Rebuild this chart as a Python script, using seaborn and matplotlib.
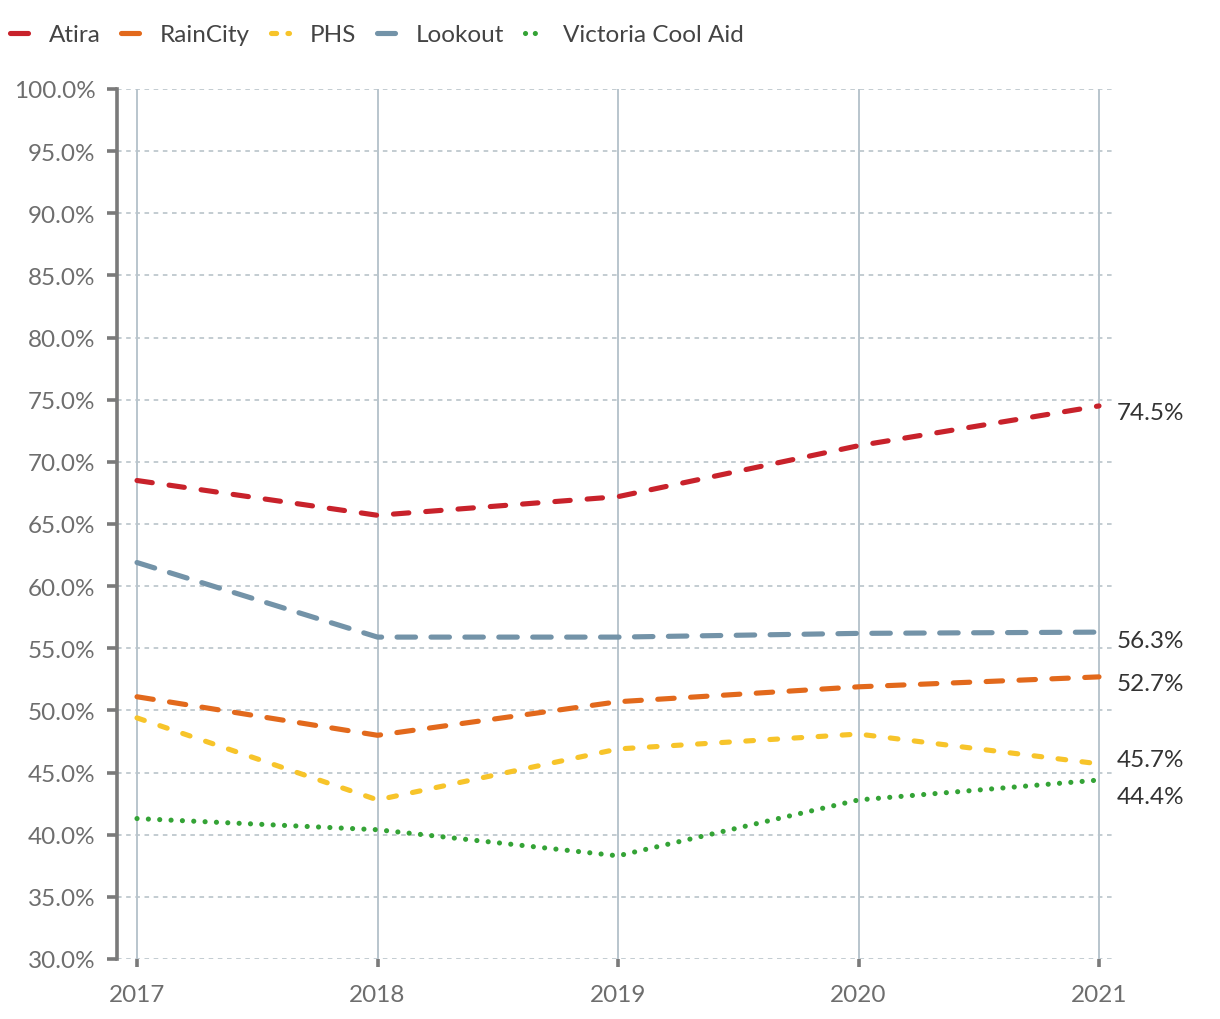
import matplotlib
matplotlib.use("Agg")
import matplotlib.pyplot as plt
from matplotlib.lines import Line2D
import seaborn as sns
import pandas as pd

years = [2017, 2018, 2019, 2020, 2021]
providers = ["Atira", "RainCity", "PHS", "Lookout", "Victoria Cool Aid"]
atira = [68.5, 65.7, 67.2, 71.3, 74.5]
raincity = [51.1, 48.0, 50.7, 51.9, 52.7]
phs = [49.4, 42.8, 46.9, 48.1, 45.7]
lookout = [61.9, 55.9, 55.9, 56.2, 56.3]
cool_aid = [41.3, 40.4, 38.3, 42.8, 44.4]

colors = {"Atira": "#c8222b", "RainCity": "#e2691c", "PHS": "#f7c42a",
          "Lookout": "#7393a8", "Victoria Cool Aid": "#34a336"}
# dash patterns (on, off) in units of line width, round caps
dashes = {"Atira": (3.0, 3.3), "RainCity": (3.2, 3.2), "PHS": (1.5, 3.2),
          "Lookout": (3.6, 3.0), "Victoria Cool Aid": (0.01, 2.2)}
# legend handles are short, so they get their own patterns
legend_dashes = {"Atira": None, "RainCity": None, "PHS": (1.0, 2.2),
                 "Lookout": None, "Victoria Cool Aid": (0.01, 1.9)}
# vertical nudge (points) for end labels so they don't collide
label_nudge = {"Atira": -5, "RainCity": -5, "PHS": 3, "Lookout": -6, "Victoria Cool Aid": -12}

series = {"Atira": atira, "RainCity": raincity, "PHS": phs,
          "Lookout": lookout, "Victoria Cool Aid": cool_aid}
df = pd.concat([pd.DataFrame({"year": years, "value": v, "provider": k})
                for k, v in series.items()], ignore_index=True)

sns.set_theme(style="white")
plt.rcParams["font.family"] = ["Lato", "DejaVu Sans"]
FS = 17.5
LW = 3.7

fig = plt.figure(figsize=(12.2, 10.2), dpi=100)
ax = fig.add_axes([117 / 1220, 60 / 1020, (1113 - 117) / 1220, 870 / 1020])

sns.lineplot(data=df, x="year", y="value", hue="provider", style="provider",
             palette=colors, dashes=dashes, hue_order=providers, style_order=providers,
             linewidth=LW, legend=False, ax=ax, dash_capstyle="round")

ax.set_xlim(2017 - 20 / 240.5, 2021 + 14 / 240.5)
ax.set_ylim(30, 100)
ax.set_yticks(range(30, 101, 5))
ax.set_yticklabels([f"{v:.1f}%" for v in range(30, 101, 5)])
ax.set_xticks(years)
ax.set_xticklabels([str(y) for y in years])
ax.set_xlabel("")
ax.set_ylabel("")

for s in ["top", "right", "bottom"]:
    ax.spines[s].set_visible(False)
ax.spines["left"].set_color("#7a7a7a")
ax.spines["left"].set_linewidth(2.6)

ax.grid(False)
for y in range(30, 101, 5):
    ax.axhline(y, color="#b3bec5", lw=1.1, ls=(0, (3, 3)), zorder=0)
for x in years:
    ax.axvline(x, color="#b9c5cd", lw=1.4, zorder=0)

ax.tick_params(axis="y", left=True, length=7, width=2.6, color="#7a7a7a",
               labelsize=FS, labelcolor="#6e6e6e", pad=8.5)
ax.tick_params(axis="x", bottom=True, length=6, width=2.6, color="#7a7a7a",
               labelsize=FS, labelcolor="#6e6e6e", pad=12)

for name in providers:
    v = series[name][-1]
    ax.annotate(f"{v:.1f}%", xy=(years[-1], v), xytext=(13, label_nudge[name]),
                textcoords="offset points", ha="left", va="center",
                fontsize=FS, color="#333333", annotation_clip=False)

handles = []
for name in providers:
    ls = "-" if legend_dashes[name] is None else (0, legend_dashes[name])
    handles.append(Line2D([], [], color=colors[name], lw=LW, ls=ls,
                          solid_capstyle="round", dash_capstyle="round"))
fig.legend(handles, providers, loc="upper left", bbox_to_anchor=(0.0, 0.985),
           ncol=5, frameon=False, fontsize=FS, handlelength=0.75,
           handletextpad=0.85, columnspacing=0.85, labelcolor="#444444",
           borderaxespad=0.2, borderpad=0.2)

fig.savefig("out.png", dpi=100)
